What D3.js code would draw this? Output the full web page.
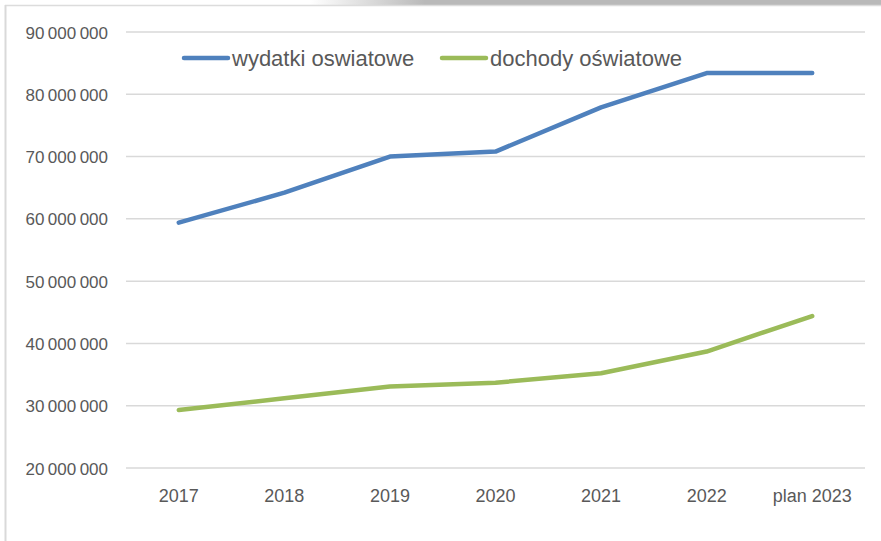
<!DOCTYPE html>
<html><head><meta charset="utf-8">
<script src="https://cdn.jsdelivr.net/npm/d3@7"></script>
<style>html,body{margin:0;padding:0;background:#fff;}svg{display:block;}</style>
</head><body>
<svg id="c" width="881" height="541"></svg>
<script>
const categories = ["2017","2018","2019","2020","2021","2022","plan 2023"];
const wydatki = [59400000, 64200000, 70000000, 70800000, 77900000, 83400000, 83400000];
const dochody = [29300000, 31200000, 33100000, 33700000, 35200000, 38700000, 44400000];
const yTicks = [20000000, 30000000, 40000000, 50000000, 60000000, 70000000, 80000000, 90000000];
const seriesNames = ["wydatki oswiatowe", "dochody oświatowe"];
const seriesColors = ["#4f81bd", "#9bbb59"];

(function(){
const svg = d3.select("#c");
const W = 881, H = 541;
const pLeft = 126, pRight = 865, pTop = 32, pBottom = 468;
const font = "'Liberation Sans', Arial, sans-serif";
const txt = "#595959";

// frame
const defs = svg.append("defs");
const g = defs.append("linearGradient").attr("id","topg")
  .attr("gradientUnits","userSpaceOnUse").attr("x1",310).attr("x2",425).attr("y1",0).attr("y2",0);
g.append("stop").attr("offset","0").attr("stop-color","#ffffff");
g.append("stop").attr("offset","1").attr("stop-color","#b9b9b9");
svg.append("rect").attr("x",0).attr("y",0).attr("width",W).attr("height",5).attr("fill","url(#topg)");
svg.append("line").attr("x1",5).attr("x2",W).attr("y1",5.5).attr("y2",5.5).attr("stroke","#dcdcdc").attr("stroke-width",1.5);
svg.append("line").attr("x1",5.5).attr("x2",5.5).attr("y1",5).attr("y2",H).attr("stroke","#d9d9d9").attr("stroke-width",2);

const x = d3.scaleBand().domain(categories).range([pLeft, pRight]);
const y = d3.scaleLinear().domain([20000000, 90000000]).range([pBottom, pTop]);

// gridlines
svg.append("g").selectAll("line").data(yTicks).join("line")
  .attr("x1", pLeft).attr("x2", pRight)
  .attr("y1", d => y(d)).attr("y2", d => y(d))
  .attr("stroke", "#d9d9d9").attr("stroke-width", 1.5);

// y axis labels
const fmt = d => d3.format(",")(d).replace(/,/g, "\u2009");
const yAxis = d3.axisLeft(y).tickValues(yTicks).tickFormat(fmt).tickSize(0).tickPadding(0);
const ya = svg.append("g").attr("transform", `translate(108,0)`).call(yAxis);
ya.select(".domain").remove();
ya.selectAll("text").attr("font-family", font).attr("font-size", 17).attr("fill", txt).attr("dy","0.36em");

// x axis labels
const xAxis = d3.axisBottom(x).tickSize(0).tickPadding(0);
const xa = svg.append("g").attr("transform", `translate(0,496)`).call(xAxis);
xa.select(".domain").remove();
xa.selectAll("text").attr("font-family", font).attr("font-size", 18).attr("fill", txt).attr("dy","0.35em");

// lines
const line = d3.line().x((d,i) => x(categories[i]) + x.bandwidth()/2).y(d => y(d));
[wydatki, dochody].forEach((s, k) => {
  svg.append("path").datum(s).attr("d", line).attr("fill","none")
    .attr("stroke", seriesColors[k]).attr("stroke-width", 4.5)
    .attr("stroke-linecap","round").attr("stroke-linejoin","round");
});

// legend
const legX = [184, 442];
seriesNames.forEach((n, k) => {
  const lg = svg.append("g");
  lg.append("line").attr("x1", legX[k]).attr("x2", legX[k] + 44).attr("y1", 58).attr("y2", 58)
    .attr("stroke", seriesColors[k]).attr("stroke-width", 4.5).attr("stroke-linecap","round");
  lg.append("text").attr("x", legX[k] + 48).attr("y", 66).text(n)
    .attr("font-family", font).attr("font-size", 22).attr("fill", txt);
});
})();
</script>
</body></html>
